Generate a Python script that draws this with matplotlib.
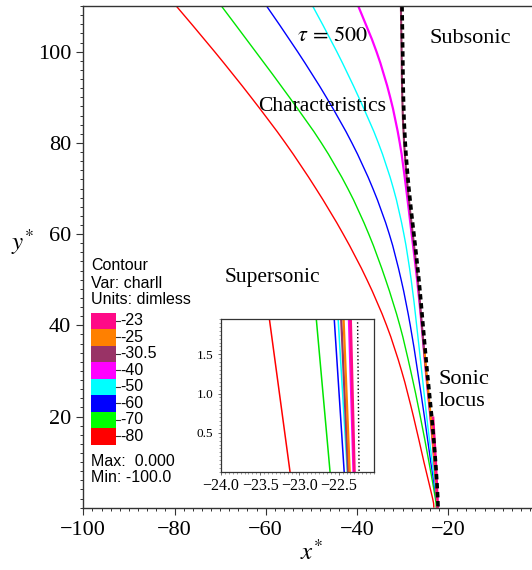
import matplotlib.pyplot as plt
from matplotlib.patches import Rectangle, PathPatch
from matplotlib.path import Path
from matplotlib.lines import Line2D
from matplotlib.ticker import MultipleLocator, FixedLocator

plt.rcParams['font.family'] = ['Liberation Serif', 'DejaVu Serif']
plt.rcParams['mathtext.fontset'] = 'stix'

# heights at which the characteristics are sampled
y_levels = [110, 100, 90, 80, 70, 60, 50, 40, 30, 20, 10, 2, 0]

red_x = [-79.6, -71.2, -63.2, -55.7, -49.0, -43.0, -37.8, -33.5, -30.2, -27.6, -25.3, -23.39, -23.12]
green_x = [-69.7, -62.2, -54.8, -47.8, -42.0, -37.4, -33.7, -30.6, -28.2, -26.1, -24.2, -22.79, -22.61]
blue_x = [-59.8, -53.0, -46.7, -41.1, -36.5, -32.9, -30.3, -28.3, -26.7, -25.2, -23.8, -22.56, -22.43]
cyan_x = [-49.7, -44.4, -39.6, -35.3, -32.0, -29.7, -28.1, -26.9, -25.8, -24.7, -23.5, -22.51, -22.39]
magenta_x = [-39.7, -35.7, -32.7, -30.6, -29.2, -28.0, -26.8, -25.8, -24.9, -23.9, -23.0, -22.37, -22.31]
purple_x = [-30.35, -30.2, -30.05, -29.65, -28.85, -27.75, -26.65, -25.75, -24.85, -23.85, -23.0, -22.47, -22.38]

orange_y = [35, 30, 20, 10, 2, 0]
orange_x = [-25.2, -24.8, -23.8, -22.95, -22.44, -22.36]
pink_y = [20, 10, 2, 0]
pink_x = [-23.3, -22.7, -22.35, -22.30]

# sonic locus
sonic_x = [-30.1, -29.95, -29.8, -29.4, -28.6, -27.5, -26.4, -25.5, -24.6, -23.6, -22.75, -22.26, -22.24]

legend_values = ['-23', '-25', '-30.5', '-40', '-50', '-60', '-70', '-80']
legend_colors = ['#ff0a87', '#ff8000', '#993366', '#ff00ff', '#00ffff', '#0000ff', '#00ff00', '#ff0000']

W, H = 532, 570
fig = plt.figure(figsize=(W / 100, H / 100), dpi=100)


def fx(px):
    return px / W


def fy(py):
    return 1 - py / H


def smooth_line(a, xs, ys, color, lw, **kw):
    """Draw a smooth curve through the points (Catmull-Rom as cubic Bezier)."""
    pts = list(zip(xs, ys))
    verts = [pts[0]]
    codes = [Path.MOVETO]
    n = len(pts)
    for i in range(n - 1):
        p0 = pts[max(i - 1, 0)]
        p1 = pts[i]
        p2 = pts[i + 1]
        p3 = pts[min(i + 2, n - 1)]
        c1 = (p1[0] + (p2[0] - p0[0]) / 6, p1[1] + (p2[1] - p0[1]) / 6)
        c2 = (p2[0] - (p3[0] - p1[0]) / 6, p2[1] - (p3[1] - p1[1]) / 6)
        verts += [c1, c2, p2]
        codes += [Path.CURVE4] * 3
    a.add_patch(PathPatch(Path(verts, codes), fill=False, edgecolor=color, lw=lw, **kw))


def straight_line(a, xs, ys, color, lw, **kw):
    a.plot(xs, ys, color=color, lw=lw, **kw)


def draw_curves(a, line, scale=1.0):
    line(a, red_x, y_levels, '#ff0000', 1.0 * scale)
    line(a, green_x, y_levels, '#00e600', 1.0 * scale)
    line(a, blue_x, y_levels, '#0000ff', 1.0 * scale)
    line(a, cyan_x, y_levels, '#00ffff', 1.0 * scale)
    line(a, magenta_x, y_levels, '#ff00ff', 1.6 * scale)
    line(a, purple_x, y_levels, '#993366', 1.5 * scale)
    line(a, orange_x, orange_y, '#ff8000', 1.5 * scale)
    line(a, pink_x, pink_y, '#ff0a87', 1.8 * scale)


# main axes
ax = fig.add_axes([fx(83.3), fy(507.7), 456 / W, 501.6 / H])
draw_curves(ax, smooth_line)
smooth_line(ax, sonic_x, y_levels, 'black', 2.6, linestyle=(0, (1.5, 1.0)))

ax.set_xlim(-100, 0)
ax.set_ylim(0, 110)
ax.xaxis.set_major_locator(FixedLocator([-100, -80, -60, -40, -20]))
ax.xaxis.set_minor_locator(MultipleLocator(2))
ax.yaxis.set_major_locator(FixedLocator([20, 40, 60, 80, 100]))
ax.yaxis.set_minor_locator(MultipleLocator(2))
ax.tick_params(which='major', direction='out', length=4.8, width=0.8, labelsize=16, pad=4, color='#333333')
ax.tick_params(which='minor', direction='out', length=2.4, width=0.7, color='#333333')
ax.tick_params(axis='x', pad=5)
for s in ax.spines.values():
    s.set_color('#333333')
    s.set_linewidth(1.0)

ax.set_xlabel(r'$x^{*}$', fontsize=18, va='center')
ax.xaxis.set_label_coords(0.5, -0.09)
ax.set_ylabel(r'$y^{*}$', fontsize=18, rotation=0, va='center', ha='center')
ax.yaxis.set_label_coords(-0.134, 0.53)

ax.text(-53.2, 103.4, r'$\tau\,=\,500$', fontsize=16, va='center')
ax.text(-24.1, 102.8, 'Subsonic', fontsize=16, va='center')
ax.text(-61.7, 87.9, 'Characteristics', fontsize=15.5, va='center')
ax.text(-69.1, 50.4, 'Supersonic', fontsize=15.5, va='center')
ax.text(-22.2, 28.2, 'Sonic', fontsize=16, va='center')
ax.text(-22.0, 23.2, 'locus', fontsize=16, va='center')

# colour legend box
sans = ['Liberation Sans', 'DejaVu Sans']
fig.text(fx(91), fy(266), 'Contour', family=sans, fontsize=11.5, va='center')
fig.text(fx(91), fy(283), 'Var: charll', family=sans, fontsize=11.5, va='center')
fig.text(fx(91), fy(299), 'Units: dimless', family=sans, fontsize=11.5, va='center')
sw_top, sw_h = 312.7, 16.5
for i, (val, col) in enumerate(zip(legend_values, legend_colors)):
    top = sw_top + sw_h * i
    fig.add_artist(Rectangle((fx(90.7), fy(top + sw_h)), 25.3 / W, sw_h / H,
                             transform=fig.transFigure, facecolor=col, edgecolor='none'))
    yc = top + sw_h / 2
    fig.add_artist(Line2D([fx(116), fx(119.5)], [fy(yc), fy(yc)], color='#333333', lw=0.8,
                          transform=fig.transFigure))
    fig.text(fx(120), fy(yc), val, family=sans, fontsize=11.5, va='center')
fig.text(fx(91), fy(461), 'Max:  0.000', family=sans, fontsize=11.5, va='center')
fig.text(fx(91), fy(478), 'Min: -100.0', family=sans, fontsize=11.5, va='center')

# zoomed inset near the bottom of the sonic locus
axins = fig.add_axes([fx(221), fy(472), 153 / W, 153 / H])
draw_curves(axins, straight_line, scale=1.1)
axins.plot(sonic_x, y_levels, color='black', lw=1.0, ls=':')
axins.set_xlim(-24, -22.05)
axins.set_ylim(0, 1.95)
axins.xaxis.set_major_locator(FixedLocator([-24.0, -23.5, -23.0, -22.5]))
axins.xaxis.set_minor_locator(MultipleLocator(0.05))
axins.yaxis.set_major_locator(FixedLocator([0.5, 1.0, 1.5]))
axins.yaxis.set_minor_locator(MultipleLocator(0.05))
axins.xaxis.set_major_formatter(plt.FuncFormatter(lambda v, p: f'{v:.1f}'.replace('-', '\u2212')))
axins.yaxis.set_major_formatter(plt.FuncFormatter(lambda v, p: f'{v:.1f}'))
axins.tick_params(which='major', direction='out', length=2.5, width=0.6, color='#555555')
axins.tick_params(which='minor', direction='out', length=1.5, width=0.5, color='#777777')
axins.tick_params(axis='x', labelsize=11.5, pad=2)
axins.tick_params(axis='y', labelsize=9.5, pad=3)
for s in axins.spines.values():
    s.set_color('#333333')
    s.set_linewidth(0.9)

fig.savefig('out.png', dpi=100)
